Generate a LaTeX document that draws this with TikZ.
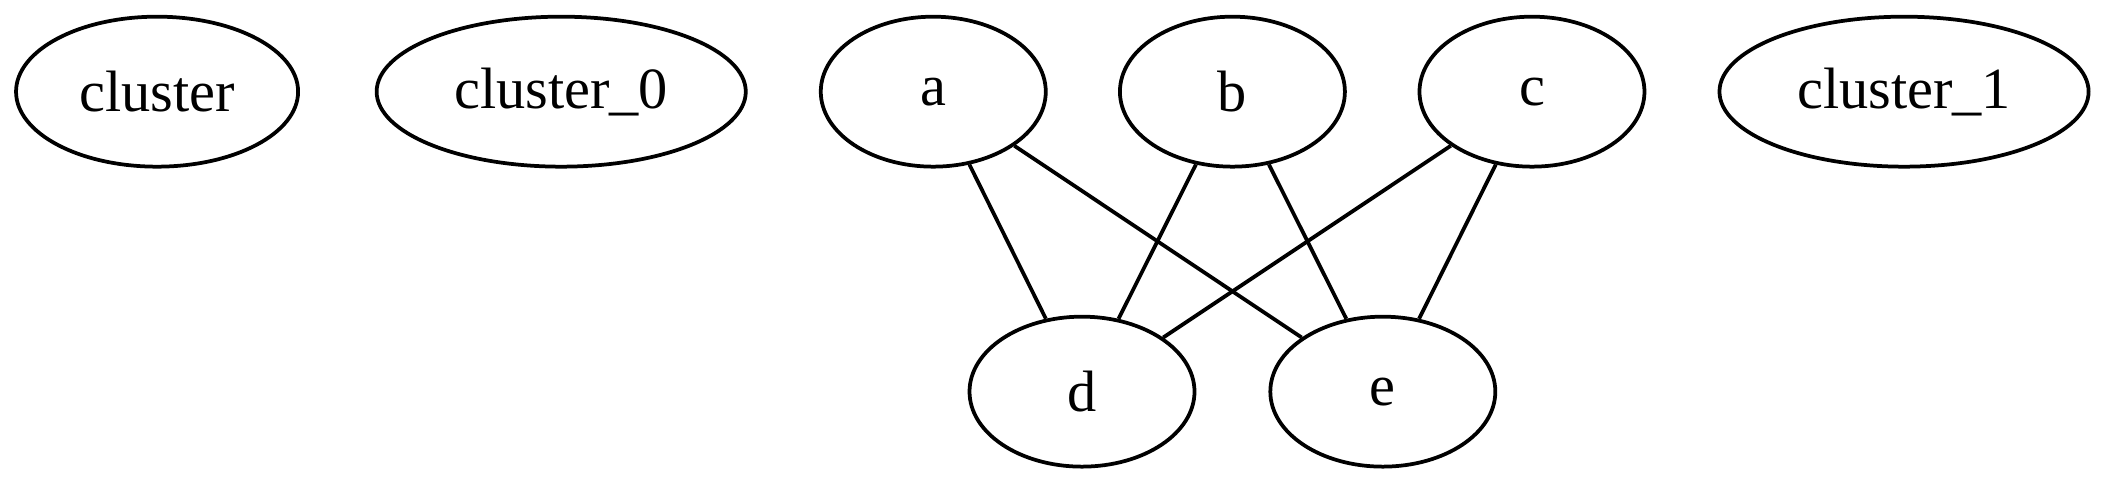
\documentclass[tikz,border=0pt]{standalone}
\usepackage{fontspec}
\setmainfont{Liberation Serif}
\usetikzlibrary{shapes.geometric}

\begin{document}
\begin{tikzpicture}[x=1pt,y=1pt,
  vertex/.style={draw,ellipse,line width=0.9pt,inner sep=0pt,minimum height=36pt,font=\fontsize{14}{16}\selectfont},
  edge/.style={line width=0.9pt}]
\useasboundingbox (0,0) rectangle (505,116);
\node[vertex,minimum width=67.7pt] (cluster) at (37.7,94) {cluster};
\node[vertex,minimum width=88.6pt] (cluster0) at (134.7,94) {cluster\_0};
\node[vertex,minimum width=54pt] (a) at (224,94) {a};
\node[vertex,minimum width=54pt] (b) at (295.8,94) {b};
\node[vertex,minimum width=54pt] (c) at (367.7,94) {c};
\node[vertex,minimum width=88.6pt] (cluster1) at (457,94) {cluster\_1};
\node[vertex,minimum width=54pt] (d) at (259.7,22) {d};
\node[vertex,minimum width=54pt] (e) at (331.9,22) {e};
\foreach \s in {a,b,c}
  \foreach \t in {d,e}
    \draw[edge] (\s) -- (\t);
\end{tikzpicture}
\end{document}
